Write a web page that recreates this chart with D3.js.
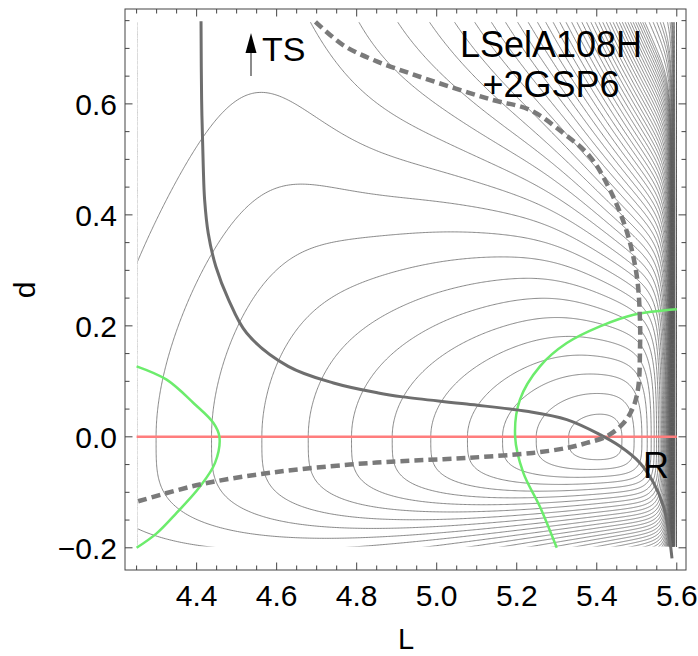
<!DOCTYPE html>
<html>
<head>
<meta charset="utf-8">
<script src="https://cdn.jsdelivr.net/npm/d3@7"></script>
<style>
  body { margin: 0; background: #fff; }
  text { font-family: "Liberation Sans", Arial, sans-serif; }
</style>
</head>
<body>
<div id="container"></div>
<script>
const w = 698;
const h = 656;

// axis ticks
const xTicks = [4.4, 4.6, 4.8, 5.0, 5.2, 5.4, 5.6];
const yTicks = [-0.2, 0.0, 0.2, 0.4, 0.6];

// contour levels of the surface
const levels = [1, 2, 3, 4, 5, 6, 7, 8, 9, 10, 11, 12, 13, 14, 15, 16, 17, 18, 19, 20,
  21, 22, 23, 24, 25, 26, 27, 28, 29, 30, 31, 32, 33, 34, 35, 36, 37, 38, 39, 40,
  41, 42, 43, 44, 45, 46, 47, 48, 49, 50, 52, 54, 56, 58, 60, 64, 68, 72, 76, 80, 90, 100];

// overlay curves (L, d)
const redLine = [[4.25, 0], [5.6, 0]];
const green1 = [[4.25, 0.127], [4.325, 0.103], [4.392, 0.061], [4.442, 0.025], [4.457, 0],
  [4.446, -0.047], [4.408, -0.09], [4.35, -0.137], [4.3, -0.174], [4.25, -0.2]];
const green2 = [[5.3, -0.2], [5.258, -0.126], [5.2165, -0.065], [5.196, 0], [5.208, 0.067],
  [5.258, 0.127], [5.325, 0.169], [5.408, 0.199], [5.492, 0.22], [5.6, 0.23]];
const pathSolid = [[4.411, 0.749], [4.4125, 0.607], [4.4166, 0.487], [4.42, 0.427], [4.429, 0.367],
  [4.448, 0.307], [4.48, 0.247], [4.525, 0.187], [4.629, 0.127], [4.742, 0.097], [4.854, 0.079],
  [4.915, 0.072], [5.075, 0.059], [5.225, 0.046], [5.325, 0.031], [5.408, 0.004], [5.458, -0.017],
  [5.508, -0.047], [5.542, -0.083], [5.567, -0.126], [5.579, -0.168], [5.588, -0.219]];
const pathDashed = [[4.697, 0.748], [4.766, 0.706], [4.842, 0.679], [4.933, 0.655], [5.033, 0.631],
  [5.14, 0.607], [5.233, 0.589], [5.317, 0.547], [5.383, 0.505], [5.433, 0.445], [5.475, 0.37],
  [5.5, 0.29], [5.508, 0.21], [5.508, 0.157], [5.504, 0.091], [5.492, 0.055], [5.467, 0.025],
  [5.425, 0.001], [5.375, -0.011], [5.325, -0.02], [5.24, -0.029], [5.075, -0.038], [4.908, -0.044],
  [4.783, -0.05], [4.592, -0.064], [4.408, -0.086], [4.25, -0.117]];

// surface model, fitted to where the drawn contours cross
const Lmin = 5.408, wallL = 5.6, u0 = wallL - Lmin;
const wallK = 0.48, slopeL = 13, curveL = 2.78;
const upS0 = 15.7, upRise = 12, upMid = 4.7, upW = 0.12, upDrop = 5, upDropMid = 5.25, upDropW = 0.08;
const upSat = 0.55, upSatEdge = 0.12, rTop = 43, rK = 4.5;
const dnK = 1.1, dnB = 595, dnE = 2690;

const sig = t => 1 / (1 + Math.exp(-t));

function field(L, d) {
  const u = Math.max(wallL - L, 1e-5);
  let X;
  if (u < u0) X = -wallK * (1 / u - 1 / u0);
  else { const D = u - u0; X = slopeL * D - curveL * D * D; }
  let Y;
  if (d >= 0) {
    const s = upS0 + upRise * sig((L - upMid) / upW) - upDrop * sig((L - upDropMid) / upDropW);
    const c = upSat + upSatEdge * Math.exp(-(L - 4.25) / 0.1);
    const r = rTop * Math.exp(rK * (L - Lmin));
    Y = s * (d - c * d * d) + r * d * d;
  } else {
    const m2 = d * d;
    Y = Math.exp(dnK * (L - Lmin)) * (dnB * m2 - dnE * m2 * m2);
  }
  return Math.sqrt(X * X + Y * Y);
}

const svg = d3.select('#container')
  .append('svg')
    .attr('width', w)
    .attr('height', h)
    .attr('viewBox', [0, 0, w, h]);

const x = d3.scaleLinear().domain([4.221, 5.623]).range([125, 686]);
const y = d3.scaleLinear().domain([-0.240, 0.771]).range([570, 9]);

// grid, denser toward the wall at L = 5.6
const nx = 520, ny = 420;
const gx = c => {
  const k = Math.max(0, Math.min(nx - 1, c - 0.5));
  const t = k / (nx - 1);
  return 5.6 - 1.35 * (1 - t) * (1 - t);
};
const gy = c => {
  const k = Math.max(0, Math.min(ny - 1, c - 0.5));
  return 0.75 - 0.95 * k / (ny - 1);
};
const values = new Float64Array(nx * ny);
for (let j = 0; j < ny; j++) {
  const dv = gy(j + 0.5);
  for (let i = 0; i < nx; i++) {
    values[j * nx + i] = field(gx(i + 0.5), dv);
  }
}

svg.append('clipPath')
  .attr('id', 'clip')
  .append('rect')
    .attr('x', x(4.25) + 1.2)
    .attr('y', y(0.75) + 1.5)
    .attr('width', x(5.6) - x(4.25) - 1.7)
    .attr('height', y(-0.2) - y(0.75) - 2.7);

const contours = d3.contours().size([nx, ny]).thresholds(levels)(values);
const line = d3.line();

const cg = svg.append('g').attr('clip-path', 'url(#clip)');
contours.forEach(c => {
  let s = '';
  c.coordinates.forEach(poly => poly.forEach(ring => {
    s += line(ring.map(p => [x(gx(p[0])), y(gy(p[1]))]));
  }));
  cg.append('path')
    .attr('d', s)
    .attr('fill', 'none')
    .attr('stroke', '#616161')
    .attr('stroke-width', 0.75);
});

const curve = d3.line()
  .x(d => x(d[0]))
  .y(d => y(d[1]))
  .curve(d3.curveCatmullRom);

svg.append('path')
  .attr('d', curve(redLine))
  .attr('fill', 'none')
  .attr('stroke', '#ff7d7d')
  .attr('stroke-width', 2.5);

[green1, green2].forEach(g => {
  svg.append('path')
    .attr('d', curve(g))
    .attr('fill', 'none')
    .attr('stroke', '#6cec6c')
    .attr('stroke-width', 2.5);
});

svg.append('path')
  .attr('d', curve(pathSolid))
  .attr('fill', 'none')
  .attr('stroke', '#6e6e6e')
  .attr('stroke-width', 3);

svg.append('path')
  .attr('d', curve(pathDashed))
  .attr('fill', 'none')
  .attr('stroke', '#7a7a7a')
  .attr('stroke-width', 4.5)
  .attr('stroke-dasharray', '9,5');

// frame and ticks
svg.append('rect')
  .attr('x', 125)
  .attr('y', 9)
  .attr('width', 561)
  .attr('height', 561)
  .attr('fill', 'none')
  .attr('stroke', '#444')
  .attr('stroke-width', 1);

const tg = svg.append('g').attr('stroke', '#444').attr('stroke-width', 1);
const xMinor = d3.range(85, 113).map(v => v / 20);
const yMinor = d3.range(-4, 16).map(v => v / 20);
xMinor.forEach(v => {
  const major = xTicks.some(t => Math.abs(t - v) < 1e-6);
  const len = major ? 7.5 : 4.5;
  tg.append('line').attr('x1', x(v)).attr('x2', x(v)).attr('y1', 570).attr('y2', 570 - len);
  tg.append('line').attr('x1', x(v)).attr('x2', x(v)).attr('y1', 9).attr('y2', 9 + len);
});
yMinor.forEach(v => {
  const major = yTicks.some(t => Math.abs(t - v) < 1e-6);
  const len = major ? 7.5 : 4.5;
  tg.append('line').attr('y1', y(v)).attr('y2', y(v)).attr('x1', 125).attr('x2', 125 + len);
  tg.append('line').attr('y1', y(v)).attr('y2', y(v)).attr('x1', 686).attr('x2', 686 - len);
});

svg.selectAll('.xl')
  .data(xTicks)
  .enter()
  .append('text')
    .attr('x', d => x(d))
    .attr('y', 606)
    .attr('text-anchor', 'middle')
    .style('font-size', '30px')
    .text(d => d.toFixed(1));

svg.selectAll('.yl')
  .data(yTicks)
  .enter()
  .append('text')
    .attr('x', 117)
    .attr('y', d => y(d) + 11)
    .attr('text-anchor', 'end')
    .style('font-size', '30px')
    .text(d => d < 0 ? '\u2212' + Math.abs(d).toFixed(1) : d.toFixed(1));

svg.append('text')
  .attr('x', 406)
  .attr('y', 649)
  .attr('text-anchor', 'middle')
  .style('font-size', '29px')
  .text('L');

svg.append('text')
  .attr('transform', 'translate(35, 290) rotate(-90)')
  .attr('text-anchor', 'middle')
  .style('font-size', '30px')
  .text('d');

// annotations
svg.append('line')
  .attr('x1', 251).attr('x2', 251)
  .attr('y1', 76).attr('y2', 48)
  .attr('stroke', '#666')
  .attr('stroke-width', 1.5);
svg.append('path')
  .attr('d', 'M251,33 L256.5,53 L245.5,53 Z')
  .attr('fill', '#000');
svg.append('text')
  .attr('x', 262)
  .attr('y', 61)
  .style('font-size', '34px')
  .text('TS');

svg.append('text')
  .attr('x', 551)
  .attr('y', 57)
  .attr('text-anchor', 'middle')
  .style('font-size', '36px')
  .text('LSelA108H');
svg.append('text')
  .attr('x', 551)
  .attr('y', 97)
  .attr('text-anchor', 'middle')
  .style('font-size', '36px')
  .text('+2GSP6');

svg.append('text')
  .attr('x', 643)
  .attr('y', 478)
  .style('font-size', '36px')
  .text('R');
</script>
</body>
</html>
